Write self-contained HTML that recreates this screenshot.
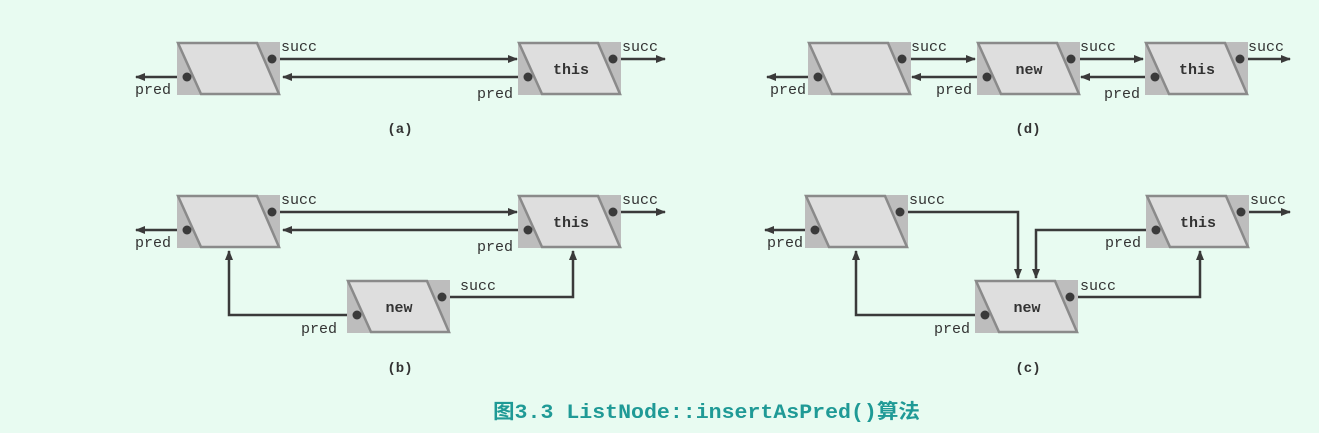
<!DOCTYPE html>
<html><head><meta charset="utf-8"><style>
html,body{margin:0;padding:0;background:#e8fbf1;}
svg{display:block}
text{font-family:"Liberation Mono","DejaVu Sans Mono",monospace;fill:#333;}
</style></head><body>
<svg width="1319" height="433" viewBox="0 0 1319 433" xmlns="http://www.w3.org/2000/svg">
<defs>
<marker id="ar" markerWidth="10" markerHeight="8" refX="9" refY="4" orient="auto" markerUnits="userSpaceOnUse">
<path d="M0,0 L10,4 L0,8 Z" fill="#3a3a3a"/></marker>
<g id="node">
<rect x="0" y="0" width="103" height="53" fill="#bdbdbd"/>
<polygon points="1,1 80,1 102,52 24,52" fill="#dedede" stroke="#8a8a8a" stroke-width="2.5"/>
</g>
</defs>
<g fill="none" stroke="#3a3a3a" stroke-width="2.5">
<!-- (a) -->
<path d="M272,59 H517" marker-end="url(#ar)"/>
<path d="M528,77 H283" marker-end="url(#ar)"/>
<path d="M187,77 H136" marker-end="url(#ar)"/>
<path d="M613,59 H665" marker-end="url(#ar)"/>
<!-- (b) -->
<path d="M272,212 H517" marker-end="url(#ar)"/>
<path d="M528,230 H283" marker-end="url(#ar)"/>
<path d="M187,230 H136" marker-end="url(#ar)"/>
<path d="M613,212 H665" marker-end="url(#ar)"/>
<path d="M357,315 H229 V251" marker-end="url(#ar)"/>
<path d="M442,297 H573 V251" marker-end="url(#ar)"/>
<!-- (d) -->
<path d="M818,77 H767" marker-end="url(#ar)"/>
<path d="M902,59 H975" marker-end="url(#ar)"/>
<path d="M987,77 H912" marker-end="url(#ar)"/>
<path d="M1071,59 H1143" marker-end="url(#ar)"/>
<path d="M1155,77 H1081" marker-end="url(#ar)"/>
<path d="M1240,59 H1290" marker-end="url(#ar)"/>
<!-- (c) -->
<path d="M815,230 H765" marker-end="url(#ar)"/>
<path d="M900,212 H1018 V278" marker-end="url(#ar)"/>
<path d="M1156,230 H1036 V278" marker-end="url(#ar)"/>
<path d="M985,315 H856 V251" marker-end="url(#ar)"/>
<path d="M1070,297 H1200 V251" marker-end="url(#ar)"/>
<path d="M1241,212 H1290" marker-end="url(#ar)"/>
</g>
<!-- nodes -->
<use href="#node" x="177" y="42"/><use href="#node" x="518" y="42"/>
<use href="#node" x="177" y="195"/><use href="#node" x="518" y="195"/><use href="#node" x="347" y="280"/>
<use href="#node" x="808" y="42"/><use href="#node" x="977" y="42"/><use href="#node" x="1145" y="42"/>
<use href="#node" x="805" y="195"/><use href="#node" x="1146" y="195"/><use href="#node" x="975" y="280"/>
<!-- dots -->
<g fill="#3a3a3a">
<circle cx="272" cy="59" r="4.5"/><circle cx="187" cy="77" r="4.5"/><circle cx="528" cy="77" r="4.5"/><circle cx="613" cy="59" r="4.5"/>
<circle cx="272" cy="212" r="4.5"/><circle cx="187" cy="230" r="4.5"/><circle cx="528" cy="230" r="4.5"/><circle cx="613" cy="212" r="4.5"/>
<circle cx="357" cy="315" r="4.5"/><circle cx="442" cy="297" r="4.5"/>
<circle cx="818" cy="77" r="4.5"/><circle cx="902" cy="59" r="4.5"/><circle cx="987" cy="77" r="4.5"/><circle cx="1071" cy="59" r="4.5"/><circle cx="1155" cy="77" r="4.5"/><circle cx="1240" cy="59" r="4.5"/>
<circle cx="815" cy="230" r="4.5"/><circle cx="900" cy="212" r="4.5"/><circle cx="1156" cy="230" r="4.5"/><circle cx="1241" cy="212" r="4.5"/>
<circle cx="985" cy="315" r="4.5"/><circle cx="1070" cy="297" r="4.5"/>
</g>
<g font-size="15" font-weight="bold" text-anchor="middle">
<text x="571" y="74">this</text><text x="571" y="227">this</text><text x="399" y="312">new</text>
<text x="1029" y="74">new</text><text x="1197" y="74">this</text>
<text x="1198" y="227">this</text><text x="1027" y="312">new</text>
</g>
<g font-size="15">
<text x="281" y="51">succ</text><text x="622" y="51">succ</text><text x="135" y="94">pred</text><text x="477" y="98">pred</text>
<text x="281" y="204">succ</text><text x="622" y="204">succ</text><text x="135" y="247">pred</text><text x="477" y="251">pred</text>
<text x="460" y="290">succ</text><text x="301" y="333">pred</text>
<text x="911" y="51">succ</text><text x="1080" y="51">succ</text><text x="1248" y="51">succ</text>
<text x="770" y="94">pred</text><text x="936" y="94">pred</text><text x="1104" y="98">pred</text>
<text x="909" y="204">succ</text><text x="1250" y="204">succ</text><text x="767" y="247">pred</text><text x="1105" y="247">pred</text>
<text x="1080" y="290">succ</text><text x="934" y="333">pred</text>
</g>
<g font-size="14" font-weight="bold" text-anchor="middle">
<text x="400" y="133">(a)</text><text x="1028" y="133">(d)</text>
<text x="400" y="372">(b)</text><text x="1028" y="372">(c)</text>
</g>
<text x="493" y="418" font-size="20" font-weight="bold" style="fill:#1f9a96;font-family:'Liberation Mono','Noto Sans CJK SC',monospace" textLength="427" lengthAdjust="spacingAndGlyphs">图3.3 ListNode::insertAsPred()算法</text>
</svg>
</body></html>
